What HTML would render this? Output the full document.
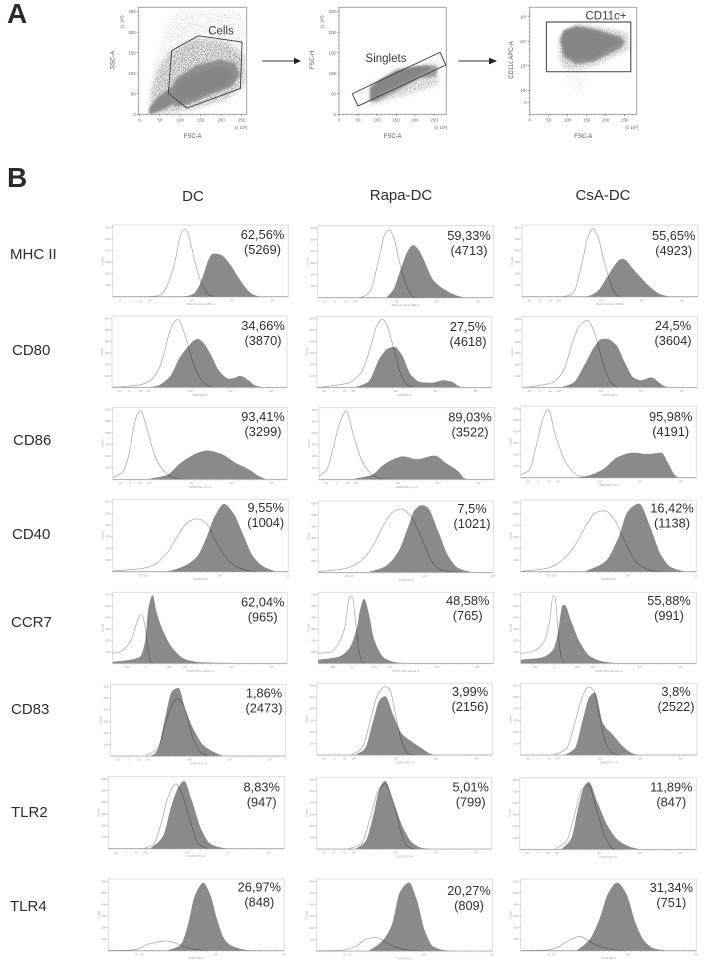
<!DOCTYPE html>
<html lang="en">
<head>
<meta charset="utf-8">
<title>Flow cytometry gating and histograms</title>
<style>
html,body{margin:0;padding:0;background:#fff;}
#figure{display:block;width:708px;height:960px;font-family:"Liberation Sans",sans-serif;}
.row-label,.col-label{font-size:15px;fill:#2e2e2e;}
.panel-letter{font-size:28px;font-weight:bold;fill:#2b2b2b;}
.gate-label{font-size:11.5px;fill:#3c3c3c;}
.axis-name{font-size:6px;fill:#555;text-anchor:middle;}
.tick{font-size:4.4px;fill:#666;}
.stat{font-size:12.8px;fill:#303030;text-anchor:middle;}
.hist-tick{font-size:3px;fill:#999;}
</style>
</head>
<body>
<svg id="figure" xmlns="http://www.w3.org/2000/svg" width="708" height="960" viewBox="0 0 708 960">
  <defs>
    <filter id="speckle" x="-10%" y="-10%" width="120%" height="120%">
      <feGaussianBlur in="SourceGraphic" stdDeviation="2.2" result="soft"/>
      <feTurbulence type="fractalNoise" baseFrequency="1.4" numOctaves="1" seed="3" result="noise"/>
      <feColorMatrix in="noise" type="matrix" values="0 0 0 0 0  0 0 0 0 0  0 0 0 0 0  6 0 0 0 -2.7" result="mask"/>
      <feComposite in="soft" in2="mask" operator="in"/>
    </filter>
    <filter id="speckleSparse" x="-10%" y="-10%" width="120%" height="120%">
      <feGaussianBlur in="SourceGraphic" stdDeviation="3" result="soft"/>
      <feTurbulence type="fractalNoise" baseFrequency="1.4" numOctaves="1" seed="8" result="noise"/>
      <feColorMatrix in="noise" type="matrix" values="0 0 0 0 0  0 0 0 0 0  0 0 0 0 0  8 0 0 0 -4.7" result="mask"/>
      <feComposite in="soft" in2="mask" operator="in"/>
    </filter>
    <filter id="softEdge" x="-10%" y="-10%" width="120%" height="120%">
      <feGaussianBlur stdDeviation="1"/>
    </filter>
    <filter id="slightBlur" x="0" y="0" width="100%" height="100%" color-interpolation-filters="sRGB">
      <feGaussianBlur stdDeviation="0.35"/>
    </filter>
  </defs>
  <rect x="0" y="0" width="708" height="960" fill="#fff"/>
  <g id="stage" filter="url(#slightBlur)">
    <text class="panel-letter" x="7" y="23">A</text>
    <text class="panel-letter" x="7" y="187">B</text>

    <text class="col-label" x="193" y="201" text-anchor="middle">DC</text>
    <text class="col-label" x="401" y="200" text-anchor="middle">Rapa-DC</text>
    <text class="col-label" x="603" y="200" text-anchor="middle">CsA-DC</text>

    <text class="row-label" x="10" y="259">MHC II</text>
    <text class="row-label" x="12" y="355">CD80</text>
    <text class="row-label" x="13" y="445">CD86</text>
    <text class="row-label" x="12" y="539">CD40</text>
    <text class="row-label" x="11" y="627">CCR7</text>
    <text class="row-label" x="11" y="714">CD83</text>
    <text class="row-label" x="11" y="817">TLR2</text>
    <text class="row-label" x="10" y="911">TLR4</text>

    <g>
      <line x1="262.3" y1="61" x2="295" y2="61" stroke="#333" stroke-width="1"/>
      <polygon points="294,57.8 301,61 294,64.2" fill="#222"/>
    </g>
    <g>
      <line x1="458.3" y1="61" x2="490" y2="61" stroke="#777" stroke-width="1.5"/>
      <polygon points="489,57.6 497,61 489,64.4" fill="#222"/>
    </g>
    <g id="scatterLayer"></g>
    <g id="histLayer"></g>
  </g>
</svg>
<script>
/* Panel B labels and printed values */
const markerNames = ["MHC II","CD80","CD86","CD40","CCR7","CD83","TLR2","TLR4"];
const conditionNames = ["DC","Rapa-DC","CsA-DC"];
const xAxisNames = ["MHC II-eFluor 450-A","CD80 PE-A","CD86 PE-Cy7-A","CD40 PE-A","CCR7 APC-eFluor-A","CD83 FITC-A","TLR2 FITC-A","TLR4 PE-A"];
const percentValues = [
  ["62,56%","59,33%","55,65%"],["34,66%","27,5%","24,5%"],["93,41%","89,03%","95,98%"],["9,55%","7,5%","16,42%"],
  ["62,04%","48,58%","55,88%"],["1,86%","3,99%","3,8%"],["8,83%","5,01%","11,89%"],["26,97%","20,27%","31,34%"]
];
const eventCounts = [
  ["(5269)","(4713)","(4923)"],["(3870)","(4618)","(3604)"],["(3299)","(3522)","(4191)"],["(1004)","(1021)","(1138)"],
  ["(965)","(765)","(991)"],["(2473)","(2156)","(2522)"],["(947)","(799)","(847)"],["(848)","(809)","(751)"]
];
const histYTickValues = [100,200,300,400,500,600];
const histYMax = 620;
const histXTickChannels = [4,10,16,21,45,68,91];
const histXTickLabels = ["-10","0","10","10²","10³","10⁴","10⁵"];
const wideXTickChannels = [16,19,61,100];
const wideXTickLabels = ["10","10²","10³","10⁴"];
const ccr7XTickChannels = [8,19,32,41,68,91];
const ccr7XTickLabels = ["-100","0","100","10³","10⁴","10⁵"];

/* Histogram curves: [channel 0-100 along axis, count as percent of axis height] */
const mhcDcIso = [[20,0],[25,1],[28,4],[31,15],[34,36],[36,55],[38,80],[40,93],[41,94],[43,88],[45,68],[47,47],[49,30],[51,16],[53,7],[55,2],[58,0]];
const mhcDcFill = [[38,0],[42,1],[46,4],[49,14],[52,33],[55,54],[57,60],[58,60],[62,58],[65,51],[68,41],[71,29],[74,18],[77,9],[80,3],[84,0]];
const mhcRapaIso = [[24,0],[28,4],[31,15],[33,35],[35.8,64],[38,87],[40.6,94],[43,86],[46,55],[50,20],[52,8],[54.5,1],[57,0]];
const mhcRapaFill = [[39,0],[43,11],[46.8,36],[50.7,62],[53,71],[54.5,73],[57,68],[60,55],[63,38],[65.7,25],[72.5,11],[78,4],[84,0]];
const mhcCsaIso = [[23.3,0],[27,2],[30,9],[32,26],[34.7,53],[37,80],[40.3,95],[43,85],[46,56],[50,21],[52,8],[54.5,1],[57,0]];
const mhcCsaFill = [[35.6,0],[39,2],[43,8],[49,30],[52.7,44],[55,51],[57,53],[59,51],[62,42],[67.8,26],[73.5,12],[79,3],[84,0]];

const cd80DcIso = [[0,0],[6.5,1],[15,3],[21.7,9],[27,27],[30,50],[33,78],[36,93],[37.8,95],[40,85],[42.6,66],[45,45],[48,24],[53,5],[57,0]];
const cd80DcFill = [[20,0],[25.5,2],[33,15],[39,43],[43.5,57],[47,66],[49,68],[52,63],[56,48],[61.6,22],[67,12],[70,13],[73,16],[78,10],[81.5,3],[86,0]];
const cd80RapaIso = [[2,0],[5,1],[18,6],[25.7,22],[31.4,62],[34,85],[37.5,96],[40,88],[43,64],[47.6,22],[51.4,4],[55,0]];
const cd80RapaFill = [[22,0],[29.5,8],[36,41],[41,55],[44.4,57],[48.6,46],[54,17],[60,7],[65.7,6.5],[72.4,10],[77,8],[82,1],[86.7,0]];
const cd80CsaIso = [[2,0],[5,1],[16.7,6],[23.4,22],[29,65],[33,88],[37.6,95],[40,86],[42.4,69],[46,36],[51,6],[55,0]];
const cd80CsaFill = [[22.4,0],[29,6],[35.7,32],[41.4,58],[45,68],[48,69],[53.8,60],[58.5,36],[64,13],[68,10],[73.8,14],[78.5,6],[82,1],[85,0]];

const cd86DcIso = [[0,2],[5.7,10],[9,31],[11.7,68],[14,90],[16,95],[19.5,71],[24,34],[28,15],[32,6],[36.6,1],[40,0]];
const cd86DcFill = [[21.4,1],[26,3],[31,6],[38.5,22],[44,31],[50,38],[54,40],[61.5,36],[71,22],[78.6,13],[84,4],[88,0]];
const cd86RapaIso = [[0,4],[4.4,13],[8,43],[12,80],[15.6,95],[19.6,62],[24.3,27],[30,7],[35.7,1],[40,0]];
const cd86RapaFill = [[20.5,1],[30,6],[36.7,20],[42.4,28],[48,32],[55.7,28],[66,33],[72.8,22],[79.5,11],[83,1.5],[86,0]];
const cd86CsaIso = [[0,4],[5,11],[9,46],[12.7,83],[15.6,95],[20,57],[26,20],[31.7,4],[37,0]];
const cd86CsaFill = [[32.6,0],[40,4],[47,12],[55.4,29],[64,35],[72.5,33],[80,35],[84,20],[87.7,4],[90,0]];

const cd40DcIso = [[0,1],[15.6,4],[23,9],[30.7,25],[38,53],[43,69],[47.8,73],[50,72],[53.5,66],[59,41],[65,18],[70.6,7],[76,2],[82,0]];
const cd40DcFill = [[31,0],[40,7],[48,21],[53.5,48],[58,76],[63.4,93.5],[68.7,81],[74,53],[80,21],[86,7],[93,0]];
const cd40RapaIso = [[0,1],[15,5],[24,15],[30.5,34],[38,69],[42.8,85],[47.6,89],[53,78],[59,48],[65,15],[70.5,3],[76,1],[82,0]];
const cd40RapaFill = [[28.6,0],[38,8],[45.7,29],[51.4,64],[55,87],[59,94],[62,92],[68.6,57],[74,24],[80,6],[87.6,0]];
const cd40CsaIso = [[0,0.5],[15.6,5],[25,19],[31.7,40],[37.4,65],[43,83],[47.8,85],[53.5,72],[59,44],[65,16],[70.6,5],[76,1],[82,0]];
const cd40CsaFill = [[36.4,0],[48,14],[55.4,46],[61,84],[67.4,95],[73.4,65],[80,23],[85.8,6],[93.4,0]];

const ccr7DcIso = [[0,14],[4,16],[10,30],[13.7,56],[15.5,67],[16.6,69],[18.5,52],[20.4,16],[22,1],[24,0]];
const ccr7DcFill = [[0,2],[10,5],[15.6,9],[18.5,30],[20.4,77],[22.9,96],[25,73],[29,45],[34.4,21],[41.4,6],[50,1.5],[69,0.5],[78,0]];
const ccr7RapaIso = [[0,14],[7.6,16],[11.4,28],[15,49],[17.7,92],[19.4,95],[21,66],[23,21],[25,2],[27,0]];
const ccr7RapaFill = [[0,5],[11.4,9],[17,19],[22,49],[24,77],[26.3,91],[28.6,73],[32,33],[38,7],[45.7,1],[53,0]];
const ccr7CsaIso = [[0,14],[6,16],[12.7,28],[16.5,59],[18.4,95],[19.7,92],[21,54],[23,9],[25,0]];
const ccr7CsaFill = [[0,5],[11.8,8],[18.4,19],[21,40],[24,82],[25,82],[28.8,59],[33.6,30],[40,9],[47.8,2],[57,0]];

const cd83DcIso = [[20.6,1],[27,11],[31,43],[35,71],[38,80],[41.5,71],[47,25],[51,6],[55,0]];
const cd83DcFill = [[22.5,0],[25,3],[27,10],[31,52],[35,90],[38.7,95],[42.5,66],[47,39],[53,15],[58.7,6],[64,0]];
const cd83RapaIso = [[20,0],[25.6,9],[30.4,46],[35,86],[39,95],[41.7,91],[44.6,60],[48.4,19],[52,2],[56,0]];
const cd83RapaFill = [[22,0],[27.5,9],[32,46],[36,77],[39,82],[43.6,56],[48.4,30],[54,19],[60,9],[65.5,1],[68,0]];
const cd83CsaIso = [[19,0],[26,9],[30.6,44],[35.4,84],[38.6,95],[41.6,89],[45,51],[48.6,14],[52.4,2],[56,0]];
const cd83CsaFill = [[25,0],[30.6,9],[35.4,51],[39,81],[42,87],[46.7,44],[52.4,28],[58,12],[63.7,2],[67,0]];

const tlr2DcIso = [[20,0],[25.6,6],[29.4,30],[34,72],[38.4,90],[41.7,77],[46.4,40],[51,7],[56,0]];
const tlr2DcFill = [[23.7,0],[31,17],[36,61],[40,86],[43,94],[47.3,68],[53,26],[58,7],[64,1.5],[69,0]];
const tlr2RapaIso = [[18,0],[25.7,8],[30.5,43],[35,80],[39,91],[43.8,66],[48.6,20],[52,3],[56,0]];
const tlr2RapaFill = [[22,0],[27.7,10],[32.4,47],[36,85],[39,95],[43.8,66],[49.5,29],[55,8],[61,1],[66.7,0]];
const tlr2CsaIso = [[19.8,0],[26.4,11],[31,48],[35,83],[38.7,90],[43.4,57],[48,20],[52.8,1],[56,0]];
const tlr2CsaFill = [[23.6,0],[29.2,15],[33,57],[36.4,87],[39,94],[44.3,64],[50,32],[55.7,13],[62,4],[68,0]];

const tlr4DcIso = [[0,0],[14,1],[24,10],[33,13.5],[40,9],[46.5,3],[56,0]];
const tlr4DcFill = [[33,0],[41,8],[45,33],[49,75],[52,90],[54,95],[58,78],[62,43],[66.4,15],[71,6],[79,1],[86.5,0]];
const tlr4RapaIso = [[0,0],[14,1],[22,6],[28.5,17],[34,19],[40,11],[45.5,5],[54,1],[60,0]];
const tlr4RapaFill = [[29.4,0],[37,13],[42.7,36],[47.4,82],[52.6,95],[57,71],[61.7,27],[66.4,6],[73,1],[78,0]];
const tlr4CsaIso = [[0,0],[15.6,1],[21,5],[28,15],[33.6,20],[39,13],[45,6],[53.5,1],[60,0]];
const tlr4CsaFill = [[31.7,0],[39,15],[45,45],[49.8,80],[55,95],[60,80],[65.8,36],[70.6,13],[76,3],[83,0]];

const histogramCurves = [
  [[mhcDcIso,mhcDcFill],[mhcRapaIso,mhcRapaFill],[mhcCsaIso,mhcCsaFill]],
  [[cd80DcIso,cd80DcFill],[cd80RapaIso,cd80RapaFill],[cd80CsaIso,cd80CsaFill]],
  [[cd86DcIso,cd86DcFill],[cd86RapaIso,cd86RapaFill],[cd86CsaIso,cd86CsaFill]],
  [[cd40DcIso,cd40DcFill],[cd40RapaIso,cd40RapaFill],[cd40CsaIso,cd40CsaFill]],
  [[ccr7DcIso,ccr7DcFill],[ccr7RapaIso,ccr7RapaFill],[ccr7CsaIso,ccr7CsaFill]],
  [[cd83DcIso,cd83DcFill],[cd83RapaIso,cd83RapaFill],[cd83CsaIso,cd83CsaFill]],
  [[tlr2DcIso,tlr2DcFill],[tlr2RapaIso,tlr2RapaFill],[tlr2CsaIso,tlr2CsaFill]],
  [[tlr4DcIso,tlr4DcFill],[tlr4RapaIso,tlr4RapaFill],[tlr4CsaIso,tlr4CsaFill]]
];

/* Panel A density regions in data units */
const fscTicks = [0,50,100,150,200,250];
const linearYTicks = [0,50,100,150,200,250];
const logYTickExponents = [5,4,3,2,1.5];
const logYTickLabels = ["10⁵","10⁴","10³","10²","0"];

const cellsFaint = [[30,70],[40,130],[60,205],[90,250],[200,255],[258,245],[258,100],[200,60],[100,60]];
const cellsLight = [[26,2],[26,51],[46,112],[79,157],[140,185],[213,177],[256,141],[258,72],[213,35],[140,15],[67,2]];
const cellsMid = [[71,51],[91,88],[140,120],[197,133],[234,125],[246,96],[226,67],[173,47],[116,23],[87,19]];
const cellsTail = [[24,-1],[24,15],[46,43],[79,67],[95,35],[67,15],[34,2]];
const cellsCore = [[87,63],[107,88],[148,104],[189,116],[218,112],[228,96],[218,76],[181,59],[140,43],[107,35],[89,39]];
const cellsGate = [[79,155],[144,191],[251,176],[247,63],[116,15],[71,51]];

const singletsLight = [[80,27],[80,69],[152,112],[261,128],[261,72],[222,59],[143,39],[90,23]];
const singletsMid = [[82,33],[82,66],[152,108],[231,120],[259,116],[255,92],[213,88],[152,56],[95,30]];
const singletsCore = [[83,35],[83,63],[108,84],[152,104],[204,116],[239,116],[239,108],[197,88],[143,66],[90,39]];
const singletsGate = [[35,50],[266,151],[281,120],[50,20]];

const cd11cFaint = [[89,2.75],[160,2.75],[140,1.9],[115,1.85]];
const cd11cLight = [[78,3.37],[78,4.19],[124,4.73],[185,4.6],[260,4.33],[260,3.65],[176,3.03],[124,2.83],[89,2.9]];
const cd11cMid = [[80,4.05],[89,4.46],[124,4.63],[176,4.49],[238,4.19],[251,3.99],[238,3.71],[168,3.17],[124,3.07],[89,3.37]];
const cd11cCore = [[84,4.05],[93,4.4],[124,4.53],[168,4.4],[229,4.12],[233,3.92],[202,3.65],[167,3.31],[124,3.24],[93,3.51]];
const cd11cGate = [[44,4.79],[266,4.79],[266,2.76],[44,2.76]];

/* Layout only */
const panelFrames = [
  [[112.7,288.3,225,296.7],[317.7,493.3,225.7,297.7],[522,698,225,296.7]],
  [[112,287,316,387.3],[316.7,491.7,316.3,387.3],[522,697.3,316.7,387.3]],
  [[112.7,287.3,407.3,479.3],[319,494.3,407.7,479.3],[520.7,696.3,406,477.7]],
  [[112.7,288.3,499.3,571.7],[318.3,493.3,501,572.3],[520.7,696.3,500,571.7]],
  [[112.7,287.3,592.3,663.3],[318.3,493.3,592.3,663.3],[520.7,696.3,592.3,663.3]],
  [[110.7,285.7,684.3,756],[316.7,492.3,683.3,755],[520.7,697,683.3,755]],
  [[108.3,284.3,776.7,848.7],[316.7,491.7,777.3,849],[519.7,696.3,777.7,849.3]],
  [[108.3,284,879,950.7],[316.7,492.3,879,951],[520.7,696.3,879,950.7]]
];
const statAnchors = [
  [[262.5,239],[469,240],[673.7,240]],
  [[263,330],[468,331],[673,330]],
  [[263,421],[470,421.7],[670.7,421]],
  [[265.7,512],[472,513],[672,512.7]],
  [[262.7,606.7],[467.7,605],[669,605]],
  [[264,697.7],[470,696],[676,696]],
  [[261.7,791.7],[470.7,791.7],[671.3,791.7]],
  [[259.3,891.7],[469,895],[671.3,892]]
];

const SVGNS = "http://www.w3.org/2000/svg";
function svgEl(tag, attrs, parent, textValue) {
  const el = document.createElementNS(SVGNS, tag);
  Object.keys(attrs).forEach(function (k) { el.setAttribute(k, attrs[k]); });
  if (textValue !== undefined) el.textContent = textValue;
  parent.appendChild(el);
  return el;
}
function slug(s) { return s.toLowerCase().replace(/[^a-z0-9]+/g, "-"); }

/* Monotone cubic path through points (no overshoot below baseline) */
function monotonePath(pts) {
  const n = pts.length;
  const dx = [], m = [], t = [];
  for (let i = 0; i < n - 1; i++) {
    dx[i] = pts[i + 1][0] - pts[i][0];
    m[i] = (pts[i + 1][1] - pts[i][1]) / dx[i];
  }
  t[0] = m[0]; t[n - 1] = m[n - 2];
  for (let i = 1; i < n - 1; i++) {
    if (m[i - 1] * m[i] <= 0) { t[i] = 0; }
    else {
      const w1 = 2 * dx[i] + dx[i - 1], w2 = dx[i] + 2 * dx[i - 1];
      t[i] = (w1 + w2) / (w1 / m[i - 1] + w2 / m[i]);
    }
  }
  let d = "";
  for (let i = 0; i < n - 1; i++) {
    const h = dx[i] / 3;
    d += " C" + (pts[i][0] + h).toFixed(2) + "," + (pts[i][1] + t[i] * h).toFixed(2) + " " +
      (pts[i + 1][0] - h).toFixed(2) + "," + (pts[i + 1][1] - t[i + 1] * h).toFixed(2) + " " +
      pts[i + 1][0].toFixed(2) + "," + pts[i + 1][1].toFixed(2);
  }
  return d;
}

function drawHistogram(layer, r, c) {
  const frame = panelFrames[r][c];
  const x0 = frame[0], x1 = frame[1], y0 = frame[2], y1 = frame[3];
  const xScale = function (ch) { return x0 + ch / 100 * (x1 - x0); };
  const yScale = function (pct) { return y1 - pct / 100 * (y1 - y0); };
  const yCount = function (count) { return yScale(count / histYMax * 100); };
  const iso = histogramCurves[r][c][0];
  const filled = histogramCurves[r][c][1];
  const baseName = slug(markerNames[r]) + "-" + slug(conditionNames[c]);

  const g = svgEl("g", {}, layer);
  
  

  const box = svgEl("rect", { x: x0, y: y0, width: x1 - x0, height: y1 - y0, fill: "#fff", stroke: "#dadada", "stroke-width": 0.9 }, g);
  
  

  const fillPts = filled.map(function (p) { return [xScale(p[0]), yScale(p[1])]; });
  const fillD = "M" + fillPts[0][0].toFixed(2) + "," + y1 + " L" + fillPts[0][0].toFixed(2) + "," + fillPts[0][1].toFixed(2) +
    monotonePath(fillPts) + " L" + fillPts[fillPts.length - 1][0].toFixed(2) + "," + y1 + " Z";
  const area = svgEl("path", { d: fillD, fill: "#8a8a8a", stroke: "none" }, g);
  
  

  const isoPts = iso.map(function (p) { return [xScale(p[0]), yScale(p[1])]; });
  const isoD = "M" + isoPts[0][0].toFixed(2) + "," + isoPts[0][1].toFixed(2) + monotonePath(isoPts);
  const line = svgEl("path", { d: isoD, fill: "none", stroke: "#aaaaaa", "stroke-width": 0.75, style: "mix-blend-mode:multiply" }, g);
  
  

  const axisLine = svgEl("line", { x1: x0, y1: y1, x2: x1, y2: y1, stroke: "#999", "stroke-width": 0.6 }, g);
  
  
  const minor = svgEl("line", { x1: x0, y1: y1 + 0.8, x2: x1, y2: y1 + 0.8, stroke: "#bbb", "stroke-width": 1, "stroke-dasharray": "0.5 1.8" }, g);
  
  

  let chs = histXTickChannels, labs = histXTickLabels;
  if (r === 3 || r === 7) { chs = wideXTickChannels; labs = wideXTickLabels; }
  if (r === 4) { chs = ccr7XTickChannels; labs = ccr7XTickLabels; }
  chs.forEach(function (ch, i) {
    const lab = svgEl("text", { class: "hist-tick", x: xScale(ch), y: y1 + 4.6, "text-anchor": "middle" }, g, labs[i]);
    
    
  });
  histYTickValues.forEach(function (v) {
    const tk = svgEl("line", { x1: x0 - 1.5, y1: yCount(v), x2: x0, y2: yCount(v), stroke: "#aaa", "stroke-width": 0.6 }, g);
    
    
    const lab = svgEl("text", { class: "hist-tick", x: x0 - 2.2, y: yCount(v) + 1, "text-anchor": "end" }, g, String(v));
    
    
  });

  const xName = svgEl("text", { class: "hist-tick", x: (x0 + x1) / 2, y: y1 + 8.5, "text-anchor": "middle" }, g, xAxisNames[r]);
  
  
  const yx = x0 - 9, yy = (y0 + y1) / 2;
  const yName = svgEl("text", { class: "hist-tick", x: yx, y: yy, "text-anchor": "middle", transform: "rotate(-90 " + yx + " " + yy + ")" }, g, "Count");
  
  

  const anchor = statAnchors[r][c];
  const pct = svgEl("text", { class: "stat", x: anchor[0], y: anchor[1] }, g, percentValues[r][c]);
  
  
  const mfi = svgEl("text", { class: "stat", x: anchor[0], y: anchor[1] + 15 }, g, eventCounts[r][c]);
  
  
}

function polyPoints(points, xs, ys) {
  return points.map(function (p) { return xs(p[0]).toFixed(2) + "," + ys(p[1]).toFixed(2); }).join(" ");
}

function drawScatter(layer, cfg) {
  const g = svgEl("g", {}, layer);
  
  
  const xs = cfg.xScale, ys = cfg.yScale, B = cfg.box;

  const clip = svgEl("clipPath", { id: cfg.name + "-clip" }, g);
  svgEl("rect", { x: B[0], y: B[2], width: B[1] - B[0], height: B[3] - B[2] }, clip);
  const cloud = svgEl("g", { "clip-path": "url(#" + cfg.name + "-clip)" }, g);
  
  
  cfg.layers.forEach(function (lay) {
    const poly = svgEl("polygon", { points: polyPoints(lay.pts, xs, ys), fill: lay.fill, filter: "url(#" + lay.filter + ")" }, cloud);
    
    
  });

  const frame = svgEl("rect", { x: B[0], y: B[2], width: B[1] - B[0], height: B[3] - B[2], fill: "none", stroke: "#999", "stroke-width": 0.9 }, g);
  
  

  fscTicks.forEach(function (v) {
    const px = xs(v);
    const t = svgEl("line", { x1: px, y1: B[3], x2: px, y2: B[3] + 2, stroke: "#777", "stroke-width": 0.6 }, g);
    
    
    const lab = svgEl("text", { class: "tick", x: px, y: B[3] + 7, "text-anchor": "middle" }, g, String(v));
    
    
  });
  const xMinor = svgEl("line", { x1: B[0], y1: B[3] + 0.8, x2: B[1], y2: B[3] + 0.8, stroke: "#999", "stroke-width": 1, "stroke-dasharray": "0.5 3.6" }, g);
  
  
  const yMinor = svgEl("line", { x1: B[0] - 0.8, y1: B[2], x2: B[0] - 0.8, y2: B[3], stroke: "#999", "stroke-width": 1, "stroke-dasharray": "0.5 3.6" }, g);
  
  

  cfg.yTicks.forEach(function (v, i) {
    const py = ys(v);
    const t = svgEl("line", { x1: B[0] - 2, y1: py, x2: B[0], y2: py, stroke: "#777", "stroke-width": 0.6 }, g);
    
    
    const lab = svgEl("text", { class: "tick", x: B[0] - 3, y: py + 1.6, "text-anchor": "end" }, g, cfg.yLabels[i]);
    
    
  });

  const gate = svgEl("polygon", { points: polyPoints(cfg.gate, xs, ys), fill: "none", stroke: cfg.gateColor, "stroke-width": cfg.gateWidth }, g);
  
  
  const gateLabel = svgEl("text", { class: "gate-label", x: cfg.gateLabelAt[0], y: cfg.gateLabelAt[1], "text-anchor": "middle" }, g, cfg.gateLabel);
  
  

  const xTitle = svgEl("text", { class: "axis-name", x: cfg.xTitleX, y: 138 }, g, "FSC-A");
  
  
  const yTitle = svgEl("text", { class: "axis-name", x: cfg.yTitleX, y: 60, transform: "rotate(-90 " + cfg.yTitleX + " 60)" }, g, cfg.yTitle);
  
  
  const xUnit = svgEl("text", { class: "tick", x: cfg.xUnitX, y: 129, "text-anchor": "middle" }, g, "(x 10³)");
  
  
  if (cfg.yUnitX) {
    const yUnit = svgEl("text", { class: "tick", x: cfg.yUnitX, y: 21.7, "text-anchor": "middle", transform: "rotate(-90 " + cfg.yUnitX + " 21.7)" }, g, "(x 10³)");
    
    
  }
}

const plotLinearY = function (v) { return 114.3 - 0.4107 * v; };
const plotLogY = function (e) { return (124 + (4 - e) * 73.5) / 3; };
const scatterLayer = document.getElementById("scatterLayer");
drawScatter(scatterLayer, {
  name: "cells-scatter-plot",
  box: [138.7, 246.7, 7.3, 114.3],
  xScale: function (v) { return 139.3 + 0.4093 * v; },
  yScale: plotLinearY,
  yTicks: linearYTicks, yLabels: linearYTicks.map(String),
  layers: [
    { name: "sparse-events", pts: cellsFaint, fill: "#a8a8a8", filter: "speckleSparse" },
    { name: "scattered-events", pts: cellsLight, fill: "#8c8c8c", filter: "speckle" },
    { name: "low-fsc-events", pts: cellsTail, fill: "#8a8a8a", filter: "softEdge" },
    { name: "mid-density-events", pts: cellsMid, fill: "#8e8e8e", filter: "softEdge" },
    { name: "dense-cell-events", pts: cellsCore, fill: "#858585", filter: "softEdge" }
  ],
  gate: cellsGate, gateColor: "#3c3c3c", gateWidth: 0.9,
  gateLabel: "Cells", gateLabelAt: [221, 34.5],
  xTitleX: 192.7, yTitleX: 114.5, yTitle: "SSC-A", xUnitX: 241, yUnitX: 123.5
});
drawScatter(scatterLayer, {
  name: "singlets-scatter-plot",
  box: [339, 446.3, 7.3, 114.3],
  xScale: function (v) { return 339 + 0.38 * v; },
  yScale: plotLinearY,
  yTicks: linearYTicks, yLabels: linearYTicks.map(String),
  layers: [
    { name: "scattered-events", pts: singletsLight, fill: "#a6a6a6", filter: "speckle" },
    { name: "mid-density-events", pts: singletsMid, fill: "#9c9c9c", filter: "softEdge" },
    { name: "dense-singlet-events", pts: singletsCore, fill: "#858585", filter: "softEdge" }
  ],
  gate: singletsGate, gateColor: "#3c3c3c", gateWidth: 0.9,
  gateLabel: "Singlets", gateLabelAt: [386, 62],
  xTitleX: 392.7, yTitleX: 314, yTitle: "FSC-H", xUnitX: 441, yUnitX: 323.5
});
drawScatter(scatterLayer, {
  name: "cd11c-scatter-plot",
  box: [529.7, 636.7, 7.3, 114.3],
  xScale: function (v) { return 529.7 + 0.38 * v; },
  yScale: plotLogY,
  yTicks: logYTickExponents, yLabels: logYTickLabels,
  layers: [
    { name: "sparse-events", pts: cd11cFaint, fill: "#c4c4c4", filter: "speckleSparse" },
    { name: "scattered-events", pts: cd11cLight, fill: "#999", filter: "speckle" },
    { name: "mid-density-events", pts: cd11cMid, fill: "#8f8f8f", filter: "softEdge" },
    { name: "dense-cd11c-events", pts: cd11cCore, fill: "#858585", filter: "softEdge" }
  ],
  gate: cd11cGate, gateColor: "#5a5a5a", gateWidth: 1.2,
  gateLabel: "CD11c+", gateLabelAt: [606, 19.5],
  xTitleX: 583.3, yTitleX: 513, yTitle: "CD11c APC-A", xUnitX: 631.7, yUnitX: null
});

const histLayer = document.getElementById("histLayer");
for (let r = 0; r < markerNames.length; r++) {
  for (let c = 0; c < conditionNames.length; c++) {
    drawHistogram(histLayer, r, c);
  }
}
</script>
</body>
</html>
